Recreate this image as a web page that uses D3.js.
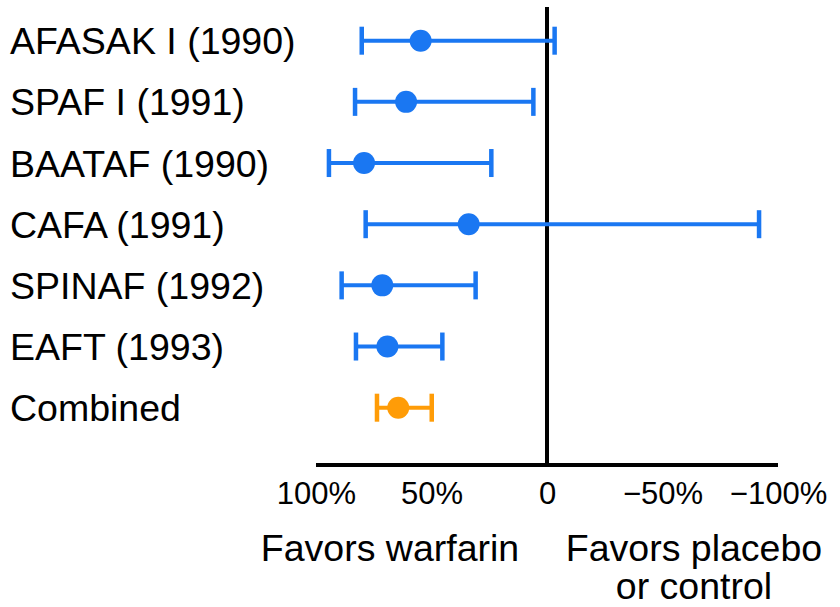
<!DOCTYPE html>
<html>
<head>
<meta charset="utf-8">
<script src="https://cdn.jsdelivr.net/npm/d3@7"></script>
<style>
  body { margin: 0; background: #fff; }
  svg { display: block; font-family: "Liberation Sans", Arial, sans-serif; }
</style>
</head>
<body>
<div id="chart"></div>
<script>
// Relative risk reduction (%) with confidence limits
const trials = ['AFASAK I (1990)', 'SPAF I (1991)', 'BAATAF (1990)', 'CAFA (1991)', 'SPINAF (1992)', 'EAFT (1993)', 'Combined'];
const estimate = [54.7, 61.0, 79.2, 33.9, 71.3, 69.1, 64.4];
const lower = [80.2, 83.1, 94.4, 78.5, 88.9, 82.7, 73.6];
const upper = [-3.3, 5.9, 24.1, -91.8, 30.9, 45.3, 49.9];
const tickValues = [100, 50, 0, -50, -100];
const tickLabels = ['100%', '50%', '0', '\u221250%', '\u2212100%'];

const width = 840, height = 607;
const blue = '#1a77f2', orange = '#ff9c07';

const svg = d3.select('#chart').append('svg')
  .attr('width', width)
  .attr('height', height);

// Scales
const x = d3.scaleLinear().domain([100, -100]).range([316, 778]);
const y = d3.scalePoint().domain(trials).range([40.7, 407.7]);
const axisY = 465;

const rows = trials.map((t, i) => ({
  name: t,
  est: estimate[i],
  lo: lower[i],
  hi: upper[i],
  color: t === 'Combined' ? orange : blue
}));

// Row labels
svg.selectAll('.row-label')
  .data(rows)
  .enter()
  .append('text')
  .attr('class', 'row-label')
  .attr('x', 10)
  .attr('y', d => y(d.name) + 13.5)
  .attr('font-size', 37.5)
  .attr('fill', '#000')
  .text(d => d.name);

// Zero line
svg.append('line')
  .attr('x1', x(0)).attr('x2', x(0))
  .attr('y1', 7).attr('y2', axisY)
  .attr('stroke', '#000')
  .attr('stroke-width', 4);

// Bottom axis
const axis = d3.axisBottom(x)
  .tickValues(tickValues)
  .tickSize(0)
  .tickPadding(0)
  .tickFormat((d, i) => tickLabels[i]);

const gAxis = svg.append('g')
  .attr('transform', `translate(0, ${axisY})`)
  .call(axis);

gAxis.select('.domain')
  .attr('d', `M${x.range()[0]},0H${x.range()[1]}`)
  .attr('stroke', '#000')
  .attr('stroke-width', 4);

gAxis.selectAll('.tick text')
  .attr('font-family', '"Liberation Sans", Arial, sans-serif')
  .attr('font-size', 31)
  .attr('fill', '#000')
  .attr('dy', null)
  .attr('y', 39);

// Error bars
const bars = svg.selectAll('.trial')
  .data(rows)
  .enter()
  .append('g')
  .attr('class', 'trial');

bars.append('line')
  .attr('x1', d => x(d.lo))
  .attr('x2', d => x(d.hi))
  .attr('y1', d => y(d.name))
  .attr('y2', d => y(d.name))
  .attr('stroke', d => d.color)
  .attr('stroke-width', 4);

['lo', 'hi'].forEach(k => {
  bars.append('line')
    .attr('x1', d => x(d[k]))
    .attr('x2', d => x(d[k]))
    .attr('y1', d => y(d.name) - 14)
    .attr('y2', d => y(d.name) + 14)
    .attr('stroke', d => d.color)
    .attr('stroke-width', 4.5);
});

bars.append('circle')
  .attr('cx', d => x(d.est))
  .attr('cy', d => y(d.name))
  .attr('r', 11)
  .attr('fill', d => d.color);

// Direction captions
svg.append('text')
  .attr('x', 390)
  .attr('y', 561)
  .attr('text-anchor', 'middle')
  .attr('font-size', 37.5)
  .text('Favors warfarin');

const right = svg.append('text')
  .attr('x', 694)
  .attr('y', 561)
  .attr('text-anchor', 'middle')
  .attr('font-size', 37.5);
right.append('tspan').attr('x', 694).text('Favors placebo');
right.append('tspan').attr('x', 694).attr('dy', 38).text('or control');
</script>
</body>
</html>
